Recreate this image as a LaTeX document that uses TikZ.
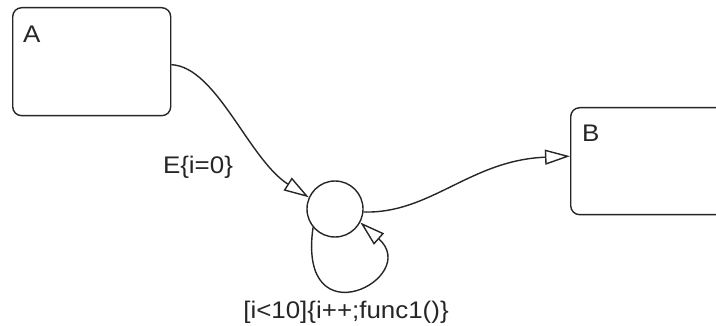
\documentclass[tikz,border=0pt]{standalone}
\usepackage{fontspec}
\setmainfont{Liberation Sans}[FakeStretch=1.08]
\usepackage{tikz}
\usetikzlibrary{arrows.meta,positioning,calc}

\tikzset{
  chartline/.style={line width=1.4pt, draw=black!85},
  state/.style={chartline, rectangle, rounded corners=9pt, inner sep=0pt},
  junction/.style={chartline, circle, minimum size=56pt, inner sep=0pt},
  trans/.style={chartline, -{Triangle[open, length=25pt, width=15pt, fill=white]}},
  lbl/.style={text=black!85, inner sep=0pt, font=\fontsize{24}{28}\selectfont},
}

\begin{document}
\begin{tikzpicture}[x=1pt,y=-1pt]
		\useasboundingbox (0,0) rectangle (716,326);
		\clip (0,0) rectangle (716,326);
		
		% --- States ---
		\node[state, minimum width=158pt, minimum height=108pt, anchor=north west] (A) at (12,7) {};
		\node[lbl, anchor=base west] (Aname) at (23,43) {A};
		
		% B runs off the right edge
		\node[state, minimum width=170pt, minimum height=107pt, anchor=north west] (B) at (570,107) {};
		\node[lbl, anchor=base west] (Bname) at (582,142) {B};
		
		% --- Connective junction ---
		\node[junction] (J) at (335,209) {};
		
		% --- Transitions ---
		\draw[trans] ([yshift=-3pt]A.east) .. controls +(45,2) and +(-60,-38) .. (J.156);
		\draw[trans] (J.-6) .. controls +(67,2) and +(-100,4) .. ([yshift=5pt]B.west);
		
		% self loop on the junction
		\draw[trans] (J.220) .. controls +(-16,115) and +(62,55) .. (J.-28);
		
		% --- Labels ---
		\node[lbl] (guardE) at (198,167) {E\{i=0\}};
		\node[lbl] (guardLoop) at (346,312) {[i<10]\{i++;func1()\}};
		
	\end{tikzpicture}
\end{document}
